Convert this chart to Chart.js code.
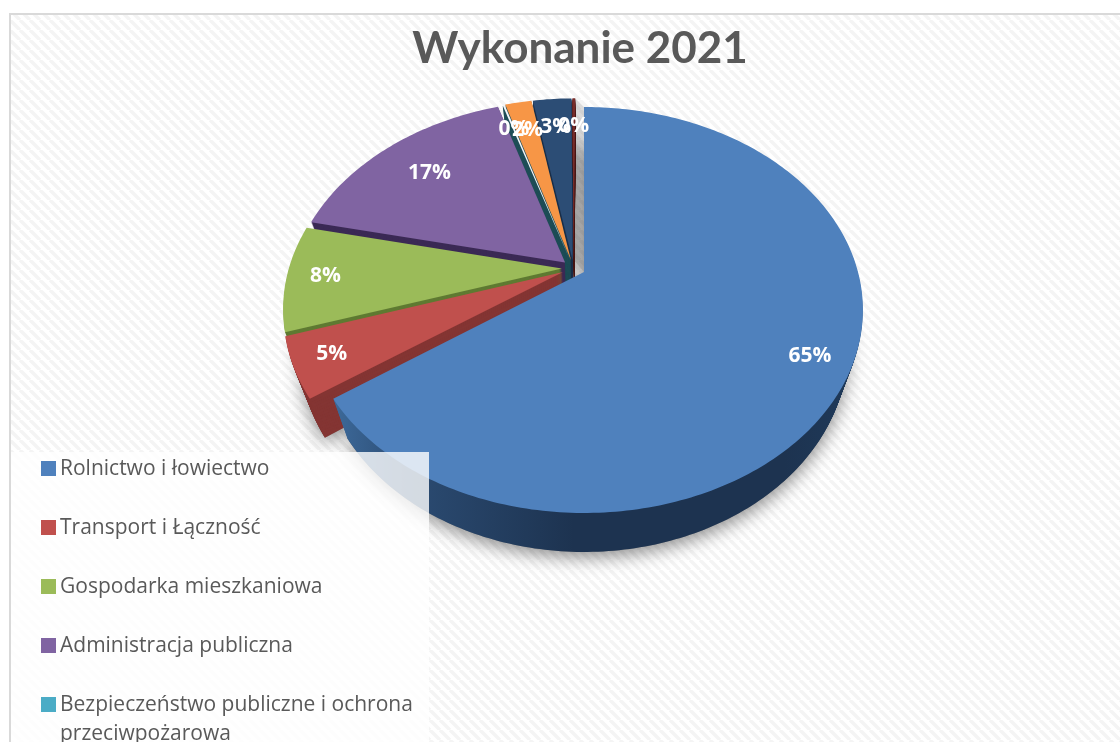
<!DOCTYPE html>
<html><head><meta charset="utf-8">
<style>html,body{margin:0;padding:0;background:#fff;overflow:hidden}#wrap{position:absolute;left:0;top:0;width:1120px;height:742px}</style>
<script src="https://cdn.jsdelivr.net/npm/chart.js@4"></script>
</head><body><div id="wrap"><canvas id="c" width="1120" height="742"></canvas></div>
<script>
const chartTitle = 'Wykonanie 2021';
const categories = ['Rolnictwo i łowiectwo','Transport i Łączność','Gospodarka mieszkaniowa','Administracja publiczna','Bezpieczeństwo publiczne i ochrona przeciwpożarowa','','',''];
const values = [65.2,4.8,8.5,16.6,0.15,1.85,2.7,0.2];
const percentLabels = ['65%','5%','8%','17%','0%','2%','3%','0%'];
const faceColors = ['#4f81bd','#c0504d','#9bbb59','#8064a2','#f4f6fa','#f79646','#2c4d75','#772c2a'];
const wallColors = ['#1f3552','#843533','#5f7a32','#3b2a55','#1f4e57','#1f4e57','#1a2f4a','#4a1a18'];
const legendSwatches = ['#4f81bd','#c0504d','#9bbb59','#8064a2','#4bacc6'];

// perspective projection of the unit disc; the first slice's apex is the anchor
const P = {x0:584,y0:272,bx:274,by:195.9,p:-0.187,dy:39,shrink:0.945,ub:0,vb:0};
function anchor(arcs){
  const el=arcs[0], e=el.options.offset/el.outerRadius, m=(el.startAngle+el.endAngle)/2;
  P.ub=e*Math.cos(m); P.vb=e*Math.sin(m);
}
function project(u,v){ const uu=u-P.ub, vv=v-P.vb, w=1+P.p*vv; return [P.x0+P.bx*uu/w, P.y0+P.by*vv/w]; }
function arcPoints(el){
  const R=el.outerRadius, e=(el.options.offset||0)/R, m=(el.startAngle+el.endAngle)/2;
  const ox=e*Math.cos(m), oy=e*Math.sin(m), pts=[];
  const n=Math.max(2,Math.ceil((el.endAngle-el.startAngle)*60));
  for(let i=0;i<=n;i++){const a=el.startAngle+(el.endAngle-el.startAngle)*i/n; pts.push(project(ox+Math.cos(a),oy+Math.sin(a)));}
  return {apex:project(ox,oy),rim:pts,ox,oy,m};
}
function tracePoly(ctx,g,t){
  const s=1-(1-P.shrink)*t, f=p=>[P.x0+(p[0]-P.x0)*s,p[1]+P.dy*t];
  ctx.beginPath(); const a=f(g.apex); ctx.moveTo(a[0],a[1]);
  g.rim.forEach(p=>{const q=f(p);ctx.lineTo(q[0],q[1]);}); ctx.closePath();
}
function backdrop(ctx,w,h){
  const s=document.createElement('canvas'); s.width=10; s.height=10; const x=s.getContext('2d');
  x.fillStyle='#ffffff'; x.fillRect(0,0,10,10); x.strokeStyle='#f4f4f4'; x.lineWidth=3.4;
  for(let i=-10;i<=20;i+=10){x.beginPath();x.moveTo(i,0);x.lineTo(i+10,10);x.stroke();}
  ctx.fillStyle='#fff'; ctx.fillRect(0,0,w,h);
  ctx.fillStyle=ctx.createPattern(s,'repeat'); ctx.fillRect(10,14,w-10,h-14);
  ctx.fillStyle='#d9d9d9'; ctx.fillRect(9,13,w-9,2); ctx.fillRect(9,13,2,h-13);
}
const pie3d = {
  id:'pie3d',
  beforeDraw(chart){ const {ctx,width,height}=chart; ctx.save(); backdrop(ctx,width,height); ctx.restore(); },
  beforeDatasetDraw(chart,args){
    const ctx=chart.ctx, arcs=chart.getDatasetMeta(args.index).data; anchor(arcs);
    const geo=arcs.map(arcPoints);
    ctx.save();
    ctx.save(); ctx.shadowColor='rgba(0,0,0,0.45)'; ctx.shadowBlur=18; ctx.shadowOffsetY=5; ctx.fillStyle='#8a8a8a';
    geo.forEach(g=>{tracePoly(ctx,g,1);ctx.fill();}); ctx.restore();
    // shaded gap between the last slice and the first
    const a=geo[0], z=geo[geo.length-1];
    ctx.beginPath(); ctx.moveTo(a.apex[0],a.apex[1]); ctx.lineTo(a.rim[0][0],a.rim[0][1]);
    ctx.lineTo(z.rim[z.rim.length-1][0],z.rim[z.rim.length-1][1]); ctx.lineTo(z.apex[0],z.apex[1]); ctx.closePath();
    ctx.fillStyle='rgba(0,0,0,0.14)'; ctx.fill();
    // back to front: the slices around the top first, the large front slice last
    const order=[6,7,5,4,3,2,1,0];
    order.forEach(i=>{
      const g=geo[i];
      let wall=wallColors[i];
      if(i===0){ const gr=ctx.createLinearGradient(337,0,863,0);
        gr.addColorStop(0,'#3c6898'); gr.addColorStop(0.14,'#2b4b72'); gr.addColorStop(0.45,'#1d3350'); gr.addColorStop(0.85,'#1d3350'); gr.addColorStop(1,'#1f3a5a'); wall=gr; }
      ctx.fillStyle=wall;
      for(let k=P.dy;k>0;k--){tracePoly(ctx,g,k/P.dy);ctx.fill();}
      tracePoly(ctx,g,0); ctx.fillStyle=faceColors[i]; ctx.fill();
    });
    ctx.restore();
    return false;
  },
  afterDatasetsDraw(chart){
    const ctx=chart.ctx, arcs=chart.getDatasetMeta(0).data;
    ctx.save(); ctx.font='bold 21px "Open Sans"'; ctx.fillStyle='#fff'; ctx.textAlign='center'; ctx.textBaseline='middle';
    const frac=[0.86,0.87,0.86,0.75,0.82,0.80,0.80,0.80];
    arcs.forEach((el,i)=>{
      const g=arcPoints(el),f=frac[i];
      const p=project(g.ox+f*Math.cos(g.m),g.oy+f*Math.sin(g.m));
      ctx.fillText(percentLabels[i],p[0],p[1]);
    });
    ctx.restore();
    // legend panel
    ctx.save(); ctx.fillStyle='rgba(255,255,255,0.8)'; ctx.fillRect(11,452,418,290);
    ctx.font='21px "Open Sans"'; ctx.textBaseline='middle'; ctx.textAlign='left';
    const rows=[[categories[0]],[categories[1]],[categories[2]],[categories[3]],['Bezpieczeństwo publiczne i ochrona','przeciwpożarowa']];
    const ys=[468.5,527.5,586.5,645.5,704.5];
    rows.forEach((r,i)=>{
      ctx.fillStyle=legendSwatches[i]; ctx.fillRect(41,ys[i]-7.5,15,15);
      ctx.fillStyle='#595959'; r.forEach((t,j)=>ctx.fillText(t,60,ys[i]+0.5+j*29));
    });
    ctx.restore();
  }
};
new Chart(document.getElementById('c'),{
  type:'pie',
  plugins:[pie3d],
  data:{labels:categories,datasets:[{data:values,backgroundColor:faceColors,offset:14,borderWidth:0}]},
  options:{
    responsive:false,animation:false,
    layout:{padding:{left:40}},
    plugins:{
      legend:{display:false},tooltip:{enabled:false},
      title:{display:true,text:chartTitle,color:'#595959',font:{family:'Lato',size:44,weight:'bold'},padding:{top:22,bottom:0}}
    }
  }
});
</script></body></html>
